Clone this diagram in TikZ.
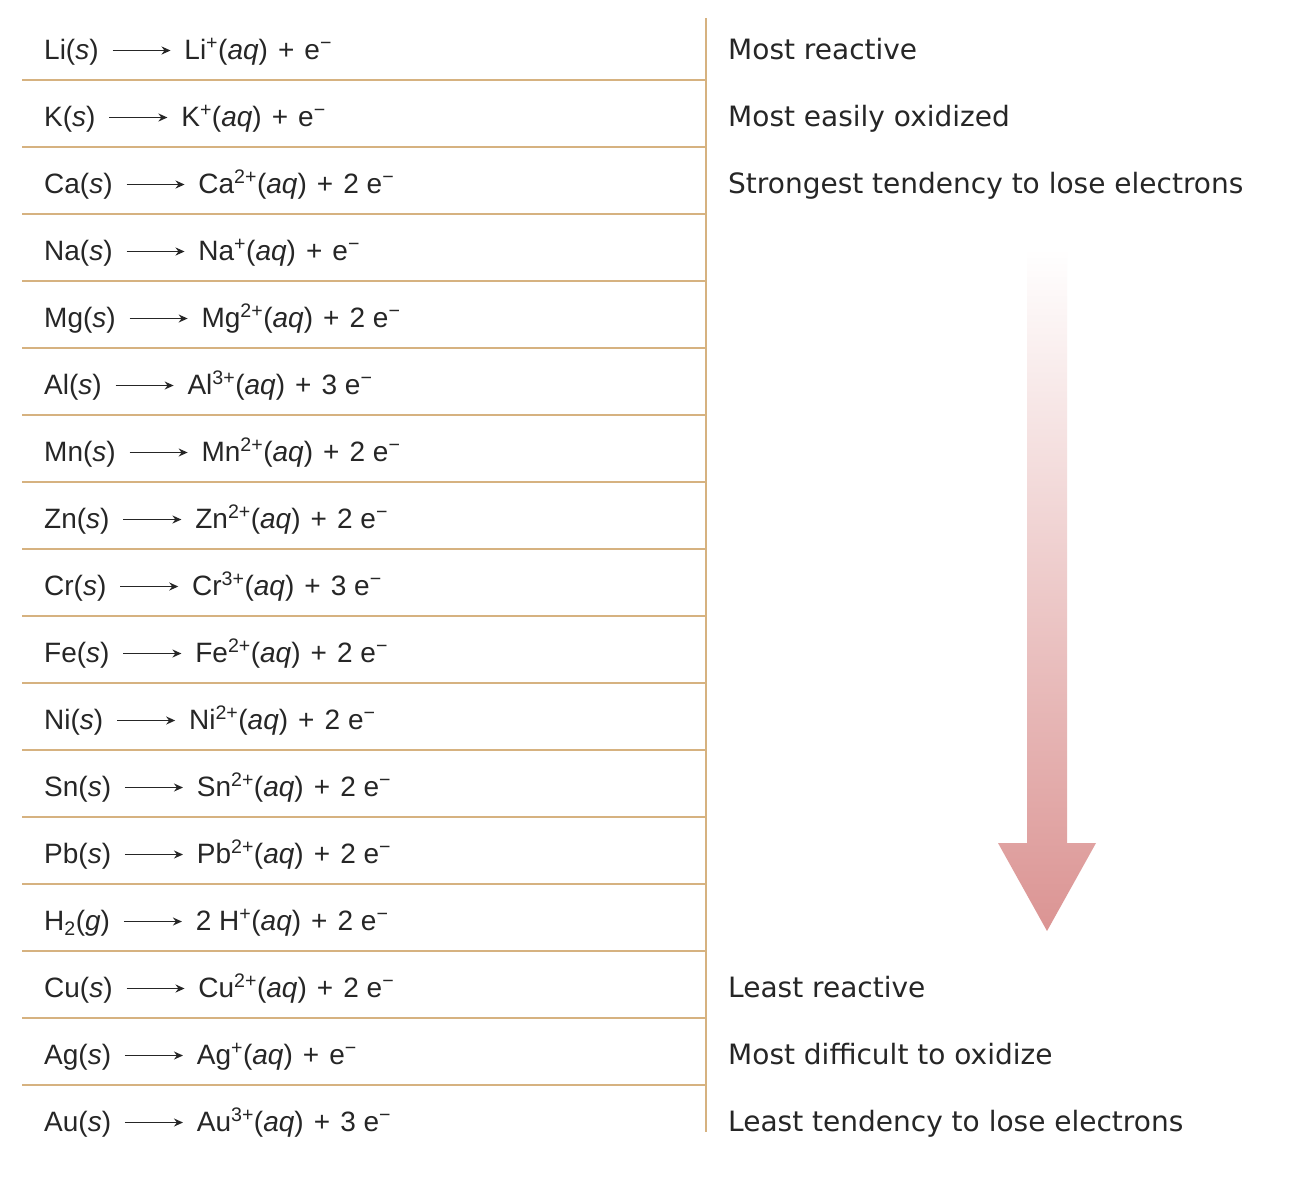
\documentclass[tikz,border=0pt]{standalone}
\usepackage{fontspec}
\setmainfont{Liberation Sans}
\newfontfamily\rfont{DejaVu Sans}
\usetikzlibrary{arrows.meta}
\definecolor{rulecol}{RGB}{214,178,128}
\definecolor{ink}{RGB}{38,38,38}
\definecolor{arrowred}{RGB}{219,148,147}
\definecolor{arrowmid}{RGB}{233,190,186}
\newcommand{\yields}{\hspace{13pt}\tikz[baseline=0pt]\draw[ink,line width=1.8pt,-{Stealth[length=9pt,width=8pt]}] (0pt,8.5pt)--(58pt,8.5pt);\hspace{13pt}}
\newcommand{\pl}{\hspace{0.36em}+\hspace{0.36em}}
\newcommand{\el}{e\textsuperscript{−}}
\newcommand{\ph}[1]{(\textit{#1})}
\begin{document}
\begin{tikzpicture}[x=1pt,y=-1pt,
  eq/.style={anchor=base west,inner sep=0pt,font=\fontsize{28}{34}\selectfont,text=ink},
  lbl/.style={anchor=base west,inner sep=0pt,font=\rfont\fontsize{28}{34}\selectfont,text=ink},
  rulel/.style={rulecol,line width=2.4pt}]
\useasboundingbox (0,0) rectangle (1300,1184);
\fill[white] (0,0) rectangle (1300,1184);
% horizontal rules
\foreach \k in {0,...,15}{
  \coordinate (L\k) at (22,{80+67*\k});
  \coordinate (R\k) at (706,{80+67*\k});
  \draw[rulel] (L\k) -- (R\k);
}
\coordinate (vtop) at (706,18);
\coordinate (vbot) at (706,1132);
\draw[rulel] (vtop) -- (vbot);
% equations
\node[eq] (r0)  at (44,59)   {Li\ph{s}\yields Li\textsuperscript{+}\ph{aq}\pl\el};
\node[eq] (r1)  at (44,126)  {K\ph{s}\yields K\textsuperscript{+}\ph{aq}\pl\el};
\node[eq] (r2)  at (44,193)  {Ca\ph{s}\yields Ca\textsuperscript{2+}\ph{aq}\pl2 \el};
\node[eq] (r3)  at (44,260)  {Na\ph{s}\yields Na\textsuperscript{+}\ph{aq}\pl\el};
\node[eq] (r4)  at (44,327)  {Mg\ph{s}\yields Mg\textsuperscript{2+}\ph{aq}\pl2 \el};
\node[eq] (r5)  at (44,394)  {Al\ph{s}\yields Al\textsuperscript{3+}\ph{aq}\pl3 \el};
\node[eq] (r6)  at (44,461)  {Mn\ph{s}\yields Mn\textsuperscript{2+}\ph{aq}\pl2 \el};
\node[eq] (r7)  at (44,528)  {Zn\ph{s}\yields Zn\textsuperscript{2+}\ph{aq}\pl2 \el};
\node[eq] (r8)  at (44,595)  {Cr\ph{s}\yields Cr\textsuperscript{3+}\ph{aq}\pl3 \el};
\node[eq] (r9)  at (44,662)  {Fe\ph{s}\yields Fe\textsuperscript{2+}\ph{aq}\pl2 \el};
\node[eq] (r10) at (44,729)  {Ni\ph{s}\yields Ni\textsuperscript{2+}\ph{aq}\pl2 \el};
\node[eq] (r11) at (44,796)  {Sn\ph{s}\yields Sn\textsuperscript{2+}\ph{aq}\pl2 \el};
\node[eq] (r12) at (44,863)  {Pb\ph{s}\yields Pb\textsuperscript{2+}\ph{aq}\pl2 \el};
\node[eq] (r13) at (44,930)  {H\textsubscript{2}\ph{g}\yields 2 H\textsuperscript{+}\ph{aq}\pl2 \el};
\node[eq] (r14) at (44,997)  {Cu\ph{s}\yields Cu\textsuperscript{2+}\ph{aq}\pl2 \el};
\node[eq] (r15) at (44,1064) {Ag\ph{s}\yields Ag\textsuperscript{+}\ph{aq}\pl\el};
\node[eq] (r16) at (44,1131) {Au\ph{s}\yields Au\textsuperscript{3+}\ph{aq}\pl3 \el};
% right labels
\node[lbl] (t1) at (728,59)   {Most reactive};
\node[lbl] (t2) at (728,126)  {Most easily oxidized};
\node[lbl] (t3) at (728,193)  {Strongest tendency to lose electrons};
\node[lbl] (b1) at (728,997)  {Least reactive};
\node[lbl] (b2) at (728,1064) {Most difficult to oxidize};
\node[lbl] (b3) at (728,1131) {Least tendency to lose electrons};
% big gradient arrow
\shade[top color=white, middle color=arrowmid, bottom color=arrowred]
  (1027,248) -- (1067,248) -- (1067,843) -- (1096,843) -- (1047,931)
  -- (998,843) -- (1027,843) -- cycle;
\end{tikzpicture}
\end{document}
